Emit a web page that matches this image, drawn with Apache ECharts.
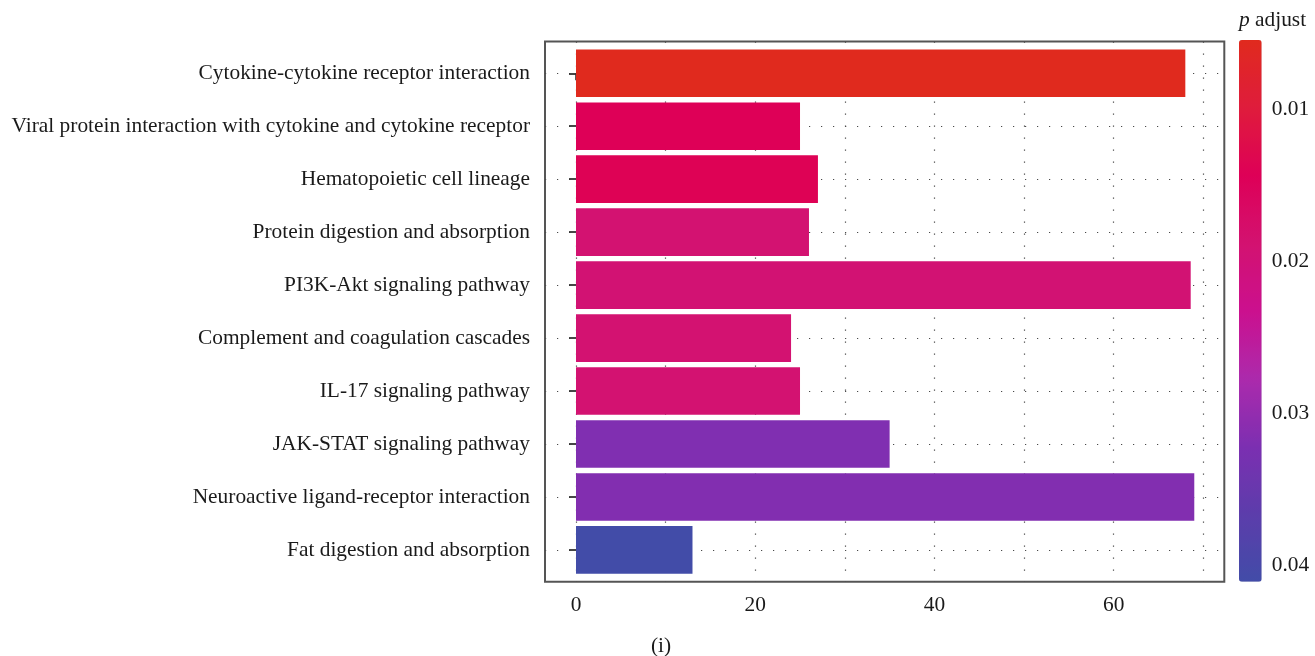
<!DOCTYPE html>
<html>
<head>
<meta charset="utf-8">
<script src="https://cdn.jsdelivr.net/npm/echarts@6/dist/echarts.min.js"></script>
<style>
  html, body { margin: 0; padding: 0; background: #ffffff; }
  #chart { width: 1315px; height: 656px; }
</style>
</head>
<body>
<div id="chart"></div>
<script>
// ---- data ----
const categories = [
  'Cytokine-cytokine receptor interaction',
  'Viral protein interaction with cytokine and cytokine receptor',
  'Hematopoietic cell lineage',
  'Protein digestion and absorption',
  'PI3K-Akt signaling pathway',
  'Complement and coagulation cascades',
  'IL-17 signaling pathway',
  'JAK-STAT signaling pathway',
  'Neuroactive ligand-receptor interaction',
  'Fat digestion and absorption'
];
const counts = [68, 25, 27, 26, 68.6, 24, 25, 35, 69, 13];
const pAdjust = [0.0054, 0.0143, 0.0140, 0.0190, 0.0192, 0.0190, 0.0190, 0.0318, 0.0316, 0.0411];
const xTickValues = [0, 20, 40, 60];
const xGridValues = [0, 10, 20, 30, 40, 50, 60, 70];
const colorTickValues = [0.01, 0.02, 0.03, 0.04];
const colorStops = ['#E02A1E', '#DF1C3C', '#DE0057', '#D31270', '#CB108E', '#AC2AAC', '#7C2FB1', '#5C3DAB', '#424CA8'];

// ---- chart ----
const FONT = 'Liberation Serif';
const TEXT = '#1a1a1a';
const FS = 21.4;
const pMin = Math.min(...pAdjust);
const pMax = Math.max(...pAdjust);
const catIdx = categories.map((c, i) => i);

const chart = echarts.init(document.getElementById('chart'), null, { renderer: 'canvas' });

const dotted = { color: '#4a4a4a', width: 1.2, type: [1.2, 10.8] };

const option = {
  backgroundColor: '#ffffff',
  animation: false,
  title: [
    {
      text: '{i|p} adjust',
      left: 1239, top: 10, padding: 0,
      textStyle: {
        fontFamily: FONT, fontSize: FS, fontWeight: 'normal', color: TEXT,
        rich: { i: { fontFamily: FONT, fontSize: FS, fontStyle: 'italic', color: TEXT } }
      }
    },
    {
      text: '(i)',
      left: 661, top: 636, padding: 0, textAlign: 'center',
      textStyle: { fontFamily: FONT, fontSize: FS, fontWeight: 'normal', color: TEXT }
    }
  ],
  grid: [
    {
      left: 545, right: 90.7, top: 41.5, bottom: 74.3,
      show: true, borderColor: '#555555', borderWidth: 2, backgroundColor: 'transparent'
    },
    { left: 1239, right: 53.3, top: 40, bottom: 74.3, show: false }
  ],
  xAxis: [
    {
      type: 'value', gridIndex: 0, min: -3.46, max: 72.35, position: 'bottom',
      axisLine: { show: false },
      axisTick: { show: true, customValues: xTickValues, length: 7, lineStyle: { color: '#333', width: 1.6 } },
      axisLabel: { show: true, customValues: xTickValues, margin: 13, fontFamily: FONT, fontSize: FS, color: TEXT },
      splitLine: { show: false }
    },
    {
      type: 'value', gridIndex: 0, min: -3.46, max: 72.35, position: 'top',
      axisLine: { show: false },
      axisTick: { show: false, customValues: xGridValues },
      axisLabel: { show: false },
      splitLine: { show: true, lineStyle: dotted }
    },
    { type: 'value', gridIndex: 1, min: 0, max: 1, show: false }
  ],
  yAxis: [
    {
      type: 'value', gridIndex: 0, inverse: true, min: -0.6, max: 9.6,
      axisLine: { show: false },
      axisTick: { show: true, customValues: catIdx, length: 7, lineStyle: { color: '#333', width: 1.8 } },
      axisLabel: {
        show: true, customValues: catIdx, margin: 15,
        fontFamily: FONT, fontSize: FS, color: TEXT,
        formatter: (v) => categories[Math.round(v)] || ''
      },
      splitLine: { show: true, lineStyle: dotted }
    },
    {
      type: 'value', gridIndex: 1, inverse: true, min: pMin, max: pMax, position: 'right',
      axisLine: { show: false },
      axisTick: { show: true, customValues: colorTickValues, length: 6, lineStyle: { color: '#333', width: 1.5 } },
      axisLabel: {
        show: true, customValues: colorTickValues, margin: 10,
        fontFamily: FONT, fontSize: FS, color: TEXT,
        formatter: (v) => v.toFixed(2)
      },
      splitLine: { show: false }
    }
  ],
  visualMap: {
    type: 'continuous',
    seriesIndex: 0,
    dimension: 2,
    min: pMin, max: pMax,
    inverse: true,
    orient: 'vertical',
    left: 1239, top: 40,
    itemWidth: 22.7, itemHeight: 541.7,
    padding: 0,
    calculable: false,
    realtime: false,
    hoverLink: false,
    text: null,
    showLabel: false,
    inRange: { color: colorStops }
  },
  series: [
    {
      type: 'custom',
      xAxisIndex: 0, yAxisIndex: 0,
      encode: { x: 0, y: 1 },
      data: categories.map((c, i) => [counts[i], i, pAdjust[i]]),
      renderItem: function (params, api) {
        const v = api.value(0);
        const i = api.value(1);
        const p0 = api.coord([0, i]);
        const p1 = api.coord([v, i]);
        const h = Math.abs(api.size([0, 0.9])[1]);
        return {
          type: 'rect',
          shape: { x: p0[0], y: p0[1] - h / 2, width: p1[0] - p0[0], height: h },
          style: { fill: api.visual('color') }
        };
      }
    }
  ]
};

chart.setOption(option);
</script>
</body>
</html>
